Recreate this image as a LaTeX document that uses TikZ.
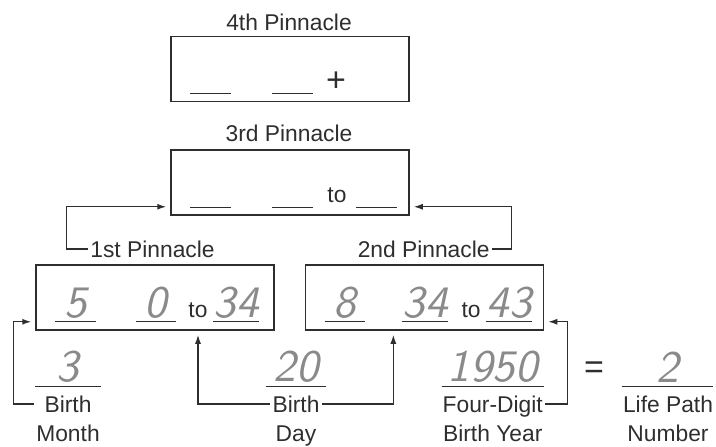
\documentclass[tikz,border=0pt]{standalone}
\usepackage{fontspec}
\setmainfont{Liberation Sans}
\newfontfamily\handfont{lmsans10-oblique.otf}
\usepackage{tikz}
\usetikzlibrary{arrows.meta, positioning}
\definecolor{ink}{HTML}{2E2E2E}
\definecolor{pencil}{HTML}{8A8A8A}
\tikzstyle{line} = [draw=ink, line width=0.65pt, -{Latex[length=4.5pt,width=3pt]}, shorten >=2pt]
\tikzstyle{block} = [draw=ink, line width=0.75pt, rectangle, minimum width=119pt, minimum height=32.5pt, inner sep=0pt]
\tikzstyle{caption} = [text=ink, inner sep=1pt, text height=8.2pt, text depth=0pt, font=\fontsize{11.4}{14}\selectfont]
\tikzstyle{sign} = [caption, font=\fontsize{17}{17}\selectfont]
\tikzstyle{blank} = [anchor=south, inner xsep=0pt, inner ysep=1.5pt, minimum width=20pt, text=pencil, font=\handfont\fontsize{22.5}{22.5}\selectfont, append after command={(\tikzlastnode.south west) edge[draw=ink, line width=0.5pt, -] (\tikzlastnode.south east)}]

\begin{document}
\begin{tikzpicture}[x=0.5pt, y=-0.5pt]
                \useasboundingbox (0,0) rectangle (716,446);
                % Create Blocks

                \node [block] (box4) at (290,69) {};
                \node [block] (box3) at (290,182.5) {};
                \node [block] (box1) at (155,297.5) {};
                \node [block] (box2) at (424.5,297.5) {};

                \node [caption] (title4) at (289,22) {4th Pinnacle};
                \node [caption] (title3) at (289,133) {3rd Pinnacle};
                \node [caption, anchor=west] (pin1) at (88,249) {1st Pinnacle};
                \node [caption, anchor=east] (pin2) at (492,249) {2nd Pinnacle};

                % Fill in the blanks
                \node [blank] (b41) at (210.5,93) {};
                \node [blank] (b42) at (292.7,93) {};
                \node [sign] (plus) at (336,83) {+};

                \node [blank] (b31) at (210.5,207) {};
                \node [blank] (b32) at (292.7,207) {};
                \node [caption] (to3) at (337,194) {to};
                \node [blank] (b33) at (376.7,207) {};

                \node [blank] (b11) at (75.7,321.7) {5};
                \node [blank] (b12) at (156,321.7) {0};
                \node [caption] (to1) at (198,309) {to};
                \node [blank] (b13) at (236.3,321.7) {34};

                \node [blank] (b21) at (345,321.7) {8};
                \node [blank] (b22) at (425,321.7) {34};
                \node [caption] (to2) at (471,309) {to};
                \node [blank] (b23) at (509,321.7) {43};

                \node [blank, minimum width=32.5pt] (monthval) at (68.2,386) {3};
                \node [blank, minimum width=29.7pt] (dayval) at (296.3,386) {20};
                \node [blank, minimum width=50.9pt] (yearval) at (492.8,386) {1950};
                \node [sign] (equals) at (594,370) {=};
                \node [blank, minimum width=45.4pt] (lifeval) at (667.4,386) {2};

                \node [caption] (month) at (68,404) {Birth};
                \node [caption] (monthb) at (68,433) {Month};
                \node [caption] (day) at (296,404) {Birth};
                \node [caption] (dayb) at (296,433) {Day};
                \node [caption] (year) at (492.7,404) {Four-Digit};
                \node [caption] (yearb) at (492.7,433) {Birth Year};
                \node [caption] (life) at (668,404) {Life Path};
                \node [caption] (lifeb) at (668,433) {Number};

                % Add Arrows
                \coordinate (in1) at ([yshift=4.5pt]box3.south west);
                \coordinate (in2) at ([yshift=4.5pt]box3.south east);
                \coordinate (in3) at ([yshift=4.5pt]box1.south west);
                \coordinate (in4) at ([yshift=4.5pt]box2.south east);
                \path [line] (pin1.west) -| ([xshift=-52pt]in1) -- (in1);
                \path [line] (pin2.east) -| ([xshift=50.75pt]in2) -- (in2);
                \path [line] (monthb.west |- month.west) -| ([xshift=-11pt]in3) -- (in3);
                \path [line] (day.west) -| (to1 |- box1.south);
                \path [line] (day.east) -| ([xshift=44.3pt]box2.south west);
                \path [line] (year.east) -| ([xshift=11.5pt]in4) -- (in4);
            \end{tikzpicture}
\end{document}
